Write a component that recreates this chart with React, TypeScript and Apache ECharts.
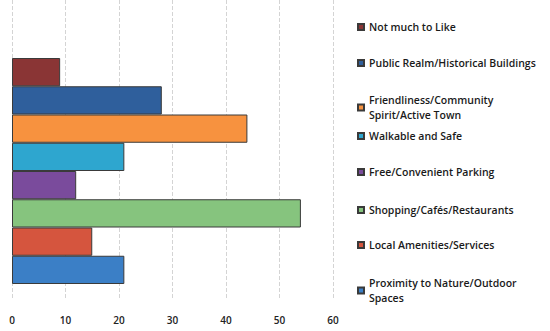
import React, { useEffect, useRef } from "react";
import * as echarts from "echarts";

const seriesNames = [
  "Not much to Like",
  "Public Realm/Historical Buildings",
  "Friendliness/Community Spirit/Active Town",
  "Walkable and Safe",
  "Free/Convenient Parking",
  "Shopping/Cafés/Restaurants",
  "Local Amenities/Services",
  "Proximity to Nature/Outdoor Spaces",
];
const legendLabels = [
  "Not much to Like",
  "Public Realm/Historical Buildings",
  "Friendliness/Community\nSpirit/Active Town",
  "Walkable and Safe",
  "Free/Convenient Parking",
  "Shopping/Cafés/Restaurants",
  "Local Amenities/Services",
  "Proximity to Nature/Outdoor\nSpaces",
];
const values = [9, 28, 44, 21, 12, 54, 15, 21];
const colors = [
  "#8a3535",
  "#2f5f9c",
  "#f7923f",
  "#2ea6cf",
  "#7a4b9c",
  "#86c47e",
  "#d5553e",
  "#3b7fc6",
];
const xMin = 0;
const xMax = 60;
const xStep = 10;

export default function App() {
  const ref = useRef<HTMLDivElement>(null);
  useEffect(() => {
    document.body.style.margin = "0";
    const chart = echarts.init(ref.current!, null, { renderer: "svg" });
    const legendCenters = [27, 63, 107.5, 136, 172, 210, 245, 290.5];
    chart.setOption({
      animation: false,
      backgroundColor: "#ffffff",
      textStyle: { fontFamily: "Open Sans" },
      grid: [
        { left: 12, right: 217, top: 0, bottom: 31 },
        { left: 12, right: 217, top: 58, height: 226 },
      ],
      xAxis: [
        {
          gridIndex: 0,
          type: "value",
          min: xMin,
          max: xMax,
          interval: xStep,
          axisLine: { show: false },
          axisTick: { show: false },
          axisLabel: { fontSize: 10, color: "#222", margin: 15, fontWeight: 600, fontFamily: "Open Sans" },
          splitLine: { show: true, lineStyle: { color: "#d4d4d4", type: "dashed", width: 1 } },
        },
        { gridIndex: 1, type: "value", min: xMin, max: xMax, interval: xStep, show: false },
      ],
      yAxis: [
        { gridIndex: 0, type: "category", data: [""], show: false },
        { gridIndex: 1, type: "category", data: [""], show: false, inverse: true },
      ],
      legend: seriesNames.map((n, i) => ({
        data: [n],
        left: 357,
        top: legendCenters[i] - (legendLabels[i].includes("\n") ? 15 : 7.5),
        padding: 0,
        orient: "vertical",
        itemWidth: 6,
        itemHeight: 6,
        icon: "rect",
        selectedMode: false,
        formatter: () => legendLabels[i],
        textStyle: { fontSize: 10.5, color: "#1a1a1a", fontWeight: 600, lineHeight: 15, fontFamily: "Open Sans" },
      })),
      series: seriesNames.map((n, i) => ({
        name: n,
        type: "bar",
        xAxisIndex: 1,
        yAxisIndex: 1,
        data: [values[i]],
        barGap: "0%",
        barCategoryGap: "0%",
        itemStyle: { color: colors[i], borderColor: "#3a3a3a", borderWidth: 1 },
      })),
    });
    return () => chart.dispose();
  }, []);
  return <div ref={ref} style={{ width: 550, height: 331 }} />;
}
